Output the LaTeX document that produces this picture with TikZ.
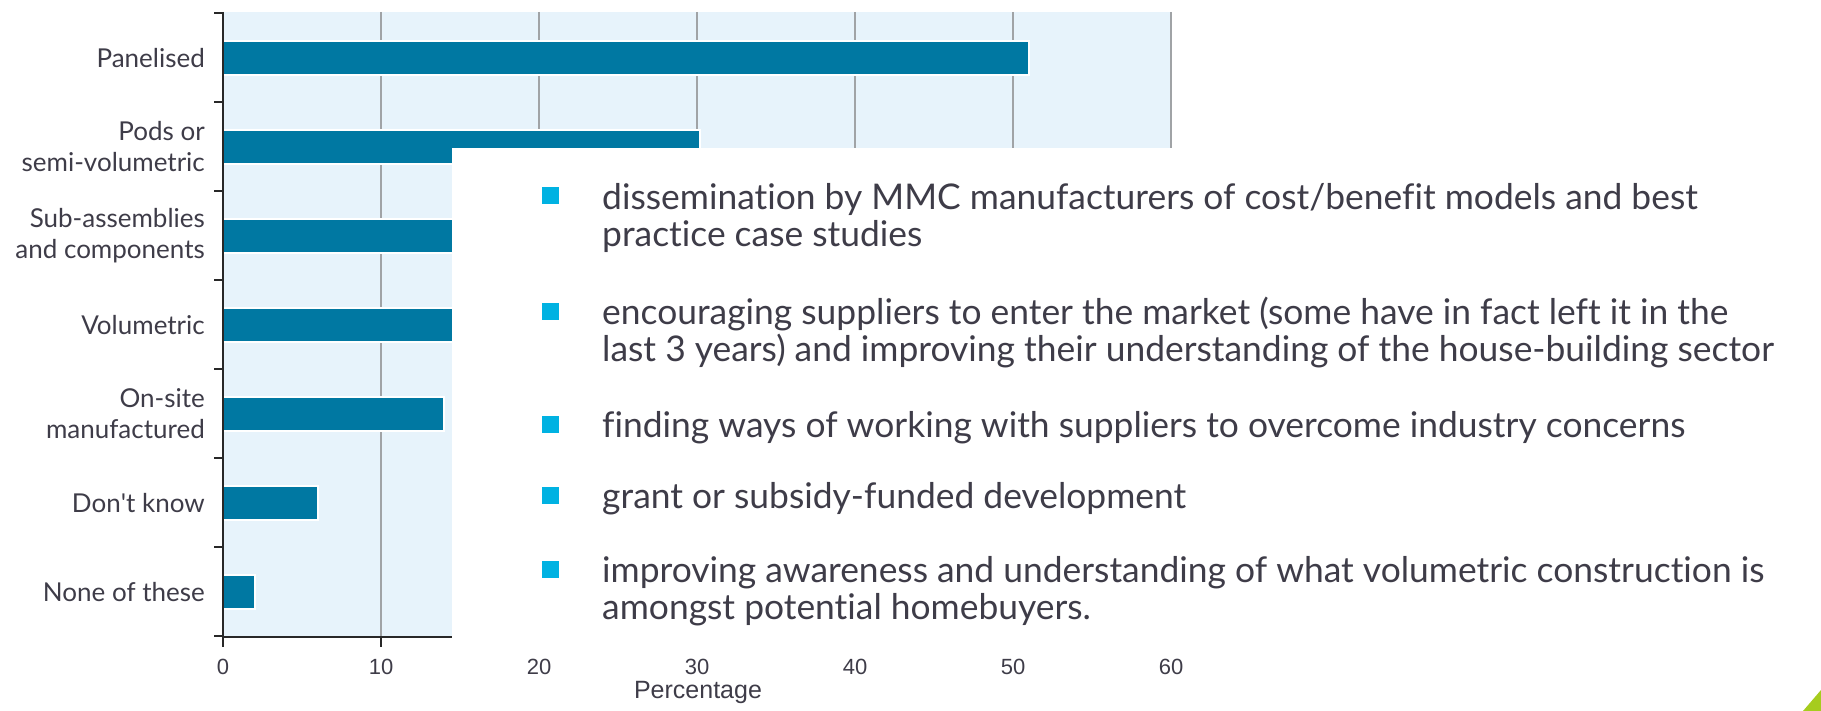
\documentclass[tikz,border=0pt]{standalone}
\usepackage{fontspec}
\setmainfont{Lato}[Ligatures=NoCommon]
\newfontfamily\tickfont{Liberation Sans}
\definecolor{barblue}{RGB}{0,120,162}
\definecolor{plotbg}{RGB}{231,243,251}
\definecolor{gridgray}{RGB}{160,163,166}
\definecolor{axisdark}{RGB}{40,40,40}
\definecolor{bulletcyan}{RGB}{0,178,226}
\definecolor{textdark}{RGB}{62,60,72}
\definecolor{leafgreen}{RGB}{166,204,30}
\begin{document}
\begin{tikzpicture}[x=1pt, y=-1pt,
  barbox/.style={fill=barblue, draw=white, line width=2.5pt},
  gridline/.style={draw=gridgray, line width=2pt},
  axisline/.style={draw=axisdark, line width=2.5pt},
  catlabel/.style={anchor=east, align=right, inner sep=0pt, text=textdark, font=\fontsize{26}{31}\selectfont},
  ticklabel/.style={anchor=base, inner sep=0pt, text=textdark, font=\tickfont\fontsize{22}{22}\selectfont},
  bulletsq/.style={fill=bulletcyan, minimum size=17pt, inner sep=0pt},
  itemtext/.style={anchor=base west, align=left, inner sep=0pt, text=textdark, font=\fontsize{35.4}{37}\selectfont}]
\useasboundingbox (0,0) rectangle (1821,711);
% plot area
\fill[plotbg] (223,12) rectangle (1171,637);
% grid
\draw[gridline] (381,12) -- (381,637);
\draw[gridline] (539,12) -- (539,637);
\draw[gridline] (697,12) -- (697,637);
\draw[gridline] (855,12) -- (855,637);
\draw[gridline] (1013,12) -- (1013,637);
\draw[gridline] (1171,12) -- (1171,637);
% bars
\draw[barbox] (223,41) rectangle (1029,75);
\draw[barbox] (223,130) rectangle (700,164);
\draw[barbox] (223,219) rectangle (571,253);
\draw[barbox] (223,308) rectangle (507,342);
\draw[barbox] (223,397) rectangle (444,431);
\draw[barbox] (223,486) rectangle (318,520);
\draw[barbox] (223,575) rectangle (255,609);
% axes
\draw[axisline] (223,12) -- (223,637) -- (1171,637);
\draw[axisline] (214,13) -- (223,13) (214,102) -- (223,102) (214,191) -- (223,191) (214,280) -- (223,280)
  (214,369) -- (223,369) (214,458) -- (223,458) (214,547) -- (223,547) (214,636) -- (223,636);
\draw[axisline] (223,637) -- (223,647) (381,637) -- (381,647) (539,637) -- (539,647) (697,637) -- (697,647)
  (855,637) -- (855,647) (1013,637) -- (1013,647) (1171,637) -- (1171,647);
% categories
\node[catlabel] (catPanel) at (205,58) {Panelised};
\node[catlabel] (catPods) at (205,147) {Pods or\\semi-volumetric};
\node[catlabel] (catSub) at (205,236) {Sub-assemblies\\and components};
\node[catlabel] (catVol) at (205,325) {Volumetric};
\node[catlabel] (catOnsite) at (205,414) {On-site\\manufactured};
\node[catlabel] (catDunno) at (205,503) {Don\textquotesingle t know};
\node[catlabel] (catNone) at (205,592) {None of these};
% overlay
\fill[white] (452,148) rectangle (1821,650);
\fill[leafgreen] (1803,711) -- (1821,690) -- (1821,711) -- cycle;
% x labels
\node[ticklabel] (tick0) at (223,674) {0};
\node[ticklabel] (tick10) at (381,674) {10};
\node[ticklabel] (tick20) at (539,674) {20};
\node[ticklabel] (tick30) at (697,674) {30};
\node[ticklabel] (tick40) at (855,674) {40};
\node[ticklabel] (tick50) at (1013,674) {50};
\node[ticklabel] (tick60) at (1171,674) {60};
\node[ticklabel, font=\tickfont\fontsize{25}{25}\selectfont] (xtitle) at (698,698) {Percentage};
% list (base = last line)
\node[bulletsq] (b1) at (550,196) {};
\node[itemtext] (t1) at (602,247) {dissemination by MMC manufacturers of cost/benefit models and best\\practice case studies};
\node[bulletsq] (b2) at (550,312) {};
\node[itemtext] (t2) at (602,362) {encouraging suppliers to enter the market (some have in fact left it in the\\last 3 years) and improving their understanding of the house-building sector};
\node[bulletsq] (b3) at (550,424) {};
\node[itemtext] (t3) at (602,437) {finding ways of working with suppliers to overcome industry concerns};
\node[bulletsq] (b4) at (550,495) {};
\node[itemtext] (t4) at (602,508) {grant or subsidy-funded development};
\node[bulletsq] (b5) at (550,569) {};
\node[itemtext] (t5) at (602,619) {improving awareness and understanding of what volumetric construction is\\amongst potential homebuyers.};
\end{tikzpicture}
\end{document}
